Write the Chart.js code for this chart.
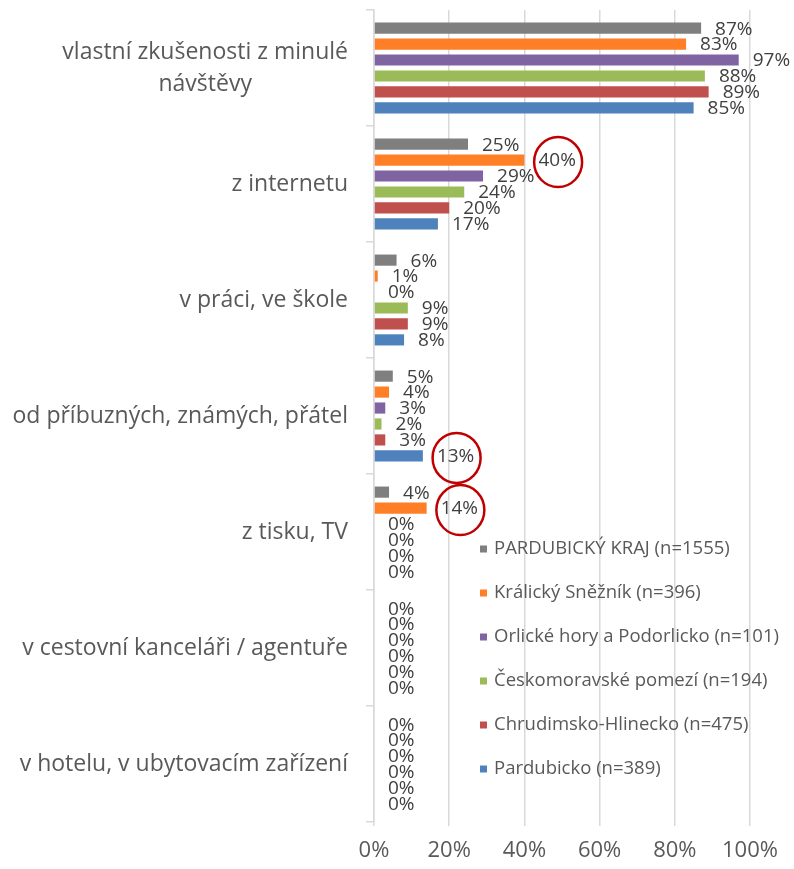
<!DOCTYPE html>
<html>
<head>
<meta charset="utf-8">
<script src="https://cdn.jsdelivr.net/npm/chart.js@4"></script>
<style>
  html, body { margin: 0; padding: 0; background: #fff; }
  #wrap { width: 794px; height: 869px; }
</style>
</head>
<body>
<div id="wrap"><canvas id="chart" width="794" height="869"></canvas></div>
<script>
// Categories (first one wraps to two lines)
const categories = [
  ['vlastní zkušenosti z minulé', 'návštěvy'],
  ['z internetu'],
  ['v práci, ve škole'],
  ['od příbuzných, známých, přátel'],
  ['z tisku, TV'],
  ['v cestovní kanceláři / agentuře'],
  ['v hotelu, v ubytovacím zařízení']
];

const seriesNames = [
  'PARDUBICKÝ KRAJ (n=1555)',
  'Králický Sněžník (n=396)',
  'Orlické hory a Podorlicko (n=101)',
  'Českomoravské pomezí (n=194)',
  'Chrudimsko-Hlinecko (n=475)',
  'Pardubicko (n=389)'
];

const seriesColors = ['#7f7f7f', '#ff7f27', '#8064a2', '#9bbb59', '#c0504d', '#4f81bd'];

// values in % per series
const krajValues       = [87, 25, 6, 5, 4, 0, 0];
const kralickyValues   = [83, 40, 1, 4, 14, 0, 0];
const orlickeValues    = [97, 29, 0, 3, 0, 0, 0];
const ceskomoravValues = [88, 24, 9, 2, 0, 0, 0];
const chrudimValues    = [89, 20, 9, 3, 0, 0, 0];
const pardubickoValues = [85, 17, 8, 13, 0, 0, 0];

const allValues = [krajValues, kralickyValues, orlickeValues, ceskomoravValues, chrudimValues, pardubickoValues];

// [category index, series index] of the circled labels
const circled = [[1, 1], [3, 5], [4, 1]];

const xTicks = [0, 20, 40, 60, 80, 100];

const FONT = '"Open Sans", "DejaVu Sans", sans-serif';

// value labels + red circles
const valueLabels = {
  id: 'valueLabels',
  afterDatasetsDraw(chart) {
    const ctx = chart.ctx;
    ctx.save();
    ctx.font = '19px ' + FONT;
    ctx.fillStyle = '#404040';
    ctx.textAlign = 'left';
    ctx.textBaseline = 'middle';
    chart.data.datasets.forEach((ds, di) => {
      chart.getDatasetMeta(di).data.forEach((bar, i) => {
        const txt = ds.data[i] + '%';
        const x = bar.x + 14;
        const y = bar.y + 1;
        ctx.fillText(txt, x, y);
        const hit = circled.some(c => c[0] === i && c[1] === di);
        if (hit) {
          const w = ctx.measureText(txt).width;
          ctx.save();
          ctx.strokeStyle = '#c00000';
          ctx.lineWidth = 2.5;
          ctx.beginPath();
          ctx.ellipse(x + w / 2 + 1, y + 1, 24, 25, 0, 0, Math.PI * 2);
          ctx.stroke();
          ctx.restore();
        }
      });
    });
    ctx.restore();
  }
};

// category labels, wrapped lines centered on each other, block right aligned
const categoryLabels = {
  id: 'categoryLabels',
  afterDraw(chart) {
    const ctx = chart.ctx;
    const yScale = chart.scales.y;
    ctx.save();
    ctx.font = '23px ' + FONT;
    ctx.fillStyle = '#595959';
    ctx.textBaseline = 'middle';
    ctx.textAlign = 'center';
    const right = 348;
    const lineH = 32;
    categories.forEach((lines, i) => {
      const cy = yScale.getPixelForTick(i);
      const w = Math.max(...lines.map(l => ctx.measureText(l).width));
      const cx = right - w / 2;
      lines.forEach((l, k) => {
        ctx.fillText(l, cx, cy + (k - (lines.length - 1) / 2) * lineH);
      });
    });
    ctx.restore();
  }
};

// legend inside the plot area
const innerLegend = {
  id: 'innerLegend',
  afterDraw(chart) {
    const ctx = chart.ctx;
    ctx.save();
    ctx.font = '18.5px ' + FONT;
    ctx.textBaseline = 'middle';
    ctx.textAlign = 'left';
    chart.data.datasets.forEach((ds, di) => {
      const y = 549 + di * 44;
      ctx.fillStyle = ds.backgroundColor;
      ctx.fillRect(480, y - 3.5, 7, 7);
      ctx.fillStyle = '#595959';
      ctx.fillText(ds.label, 494, y);
    });
    ctx.restore();
  }
};

const ctx = document.getElementById('chart').getContext('2d');
new Chart(ctx, {
  type: 'bar',
  data: {
    labels: categories.map(c => c.join(' ')),
    datasets: seriesNames.map((name, i) => ({
      label: name,
      data: allValues[i],
      backgroundColor: seriesColors[i],
      categoryPercentage: 0.825,
      barPercentage: 0.7
    }))
  },
  options: {
    indexAxis: 'y',
    responsive: false,
    animation: false,
    layout: { padding: { top: 10, right: 44, left: 0, bottom: 0 } },
    plugins: {
      legend: { display: false },
      tooltip: { enabled: false }
    },
    scales: {
      x: {
        min: 0,
        max: 100,
        afterBuildTicks(scale) {
          scale.ticks = xTicks.map(v => ({ value: v }));
        },
        afterFit(scale) { scale.height = 47; },
        border: { display: false },
        grid: { color: '#d9d9d9', lineWidth: 1.5, tickLength: 4 },
        ticks: {
          color: '#595959',
          font: { family: FONT, size: 22 },
          padding: 12,
          callback: v => v + '%'
        }
      },
      y: {
        afterFit(scale) { scale.width = 374; },
        border: { display: true, color: '#d9d9d9', width: 1.5 },
        grid: { drawOnChartArea: false, color: '#d9d9d9', lineWidth: 1.5, tickLength: 8, offset: true },
        ticks: { display: false }
      }
    }
  },
  plugins: [valueLabels, categoryLabels, innerLegend]
});
</script>
</body>
</html>
